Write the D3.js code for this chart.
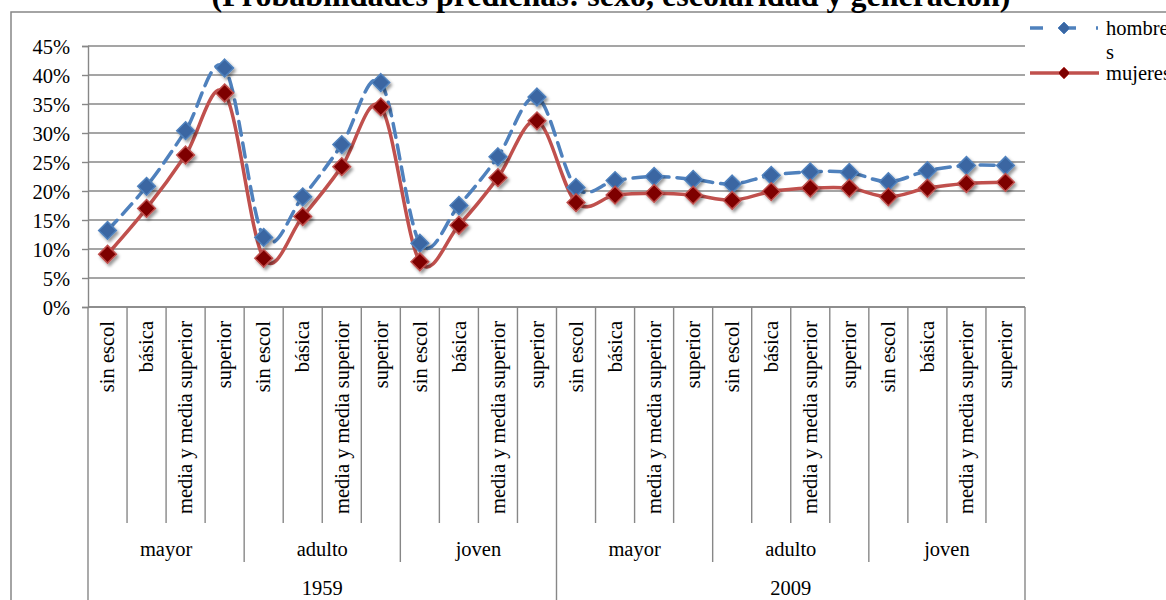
<!DOCTYPE html>
<html>
<head>
<meta charset="utf-8">
<script src="https://cdn.jsdelivr.net/npm/d3@7"></script>
<style>
  html, body { margin: 0; padding: 0; background: #fff; overflow: hidden; }
  svg { display: block; }
  svg text { font-family: "Liberation Serif", "Times New Roman", serif; }
</style>
</head>
<body>
<svg id="chart" width="1166" height="600"></svg>
<script>
// Category levels of the x axis
const years = ["1959", "2009"];
const generaciones = ["mayor", "adulto", "joven"];
const escolaridad = ["sin escol", "básica", "media y media superior", "superior"];

// Predicted probabilities (%), ordered year > generation > schooling
const hombres = [
  13.2, 20.8, 30.4, 41.2, 12.0, 19.0, 28.0, 38.7, 11.0, 17.5, 25.9, 36.2,
  20.6, 21.8, 22.5, 22.0, 21.2, 22.7, 23.3, 23.2, 21.6, 23.5, 24.4, 24.4
];
const mujeres = [
  9.1, 17.0, 26.2, 36.9, 8.4, 15.6, 24.2, 34.5, 7.8, 14.1, 22.3, 32.1,
  18.0, 19.3, 19.6, 19.3, 18.4, 19.9, 20.5, 20.5, 19.0, 20.5, 21.3, 21.5
];

const yTicks = [0, 5, 10, 15, 20, 25, 30, 35, 40, 45];
const titleText = "(Probabilidades predichas: sexo, escolaridad y generación)";

// Flat list of category keys
const cats = [];
years.forEach(yr => generaciones.forEach(g => escolaridad.forEach(e => cats.push({ yr, g, e }))));
const idx = d3.range(cats.length);

const svg = d3.select("#chart");
const gridColor = "#878787";
const blue = "#4F81BD", blueFill = "#3A66A2";
const red = "#C0504D", redFill = "#7E0000";

const x = d3.scaleBand().domain(idx).range([88, 1025]).paddingInner(0).paddingOuter(0);
const y = d3.scaleLinear().domain([0, 45]).range([307, 46]);
const cx = i => x(i) + x.bandwidth() / 2;

// Shadow for markers
const defs = svg.append("defs");
const f = defs.append("filter").attr("id", "shadow").attr("x", "-50%").attr("y", "-50%").attr("width", "200%").attr("height", "200%");
f.append("feDropShadow").attr("dx", 2).attr("dy", 2.5).attr("stdDeviation", 1.8)
  .attr("flood-color", "#000").attr("flood-opacity", 0.4);

// Outer chart frame
svg.append("rect").attr("x", 11).attr("y", 12).attr("width", 1200).attr("height", 640)
  .attr("fill", "none").attr("stroke", gridColor).attr("stroke-width", 1.5);

// Title
svg.append("text").attr("x", 611).attr("y", 6).attr("text-anchor", "middle")
  .attr("font-size", 32).attr("font-weight", "bold").text(titleText);

// Gridlines
svg.append("g").selectAll("line").data(yTicks).join("line")
  .attr("x1", 88).attr("x2", 1025)
  .attr("y1", d => y(d)).attr("y2", d => y(d))
  .attr("stroke", gridColor).attr("stroke-width", 1.4);

// Y axis
const yAxis = d3.axisLeft(y).tickValues(yTicks).tickFormat(d => d + "%").tickSize(6).tickPadding(12);
const ya = svg.append("g").attr("transform", "translate(88,0)").call(yAxis)
  .attr("font-family", null).attr("font-size", null);
ya.select(".domain").attr("stroke", gridColor).attr("stroke-width", 1.4);
ya.selectAll(".tick line").attr("stroke", gridColor).attr("stroke-width", 1.4);
ya.selectAll(".tick text").attr("font-size", 20.5).attr("fill", "#000").attr("dy", "0.35em");

// X axis baseline
svg.append("line").attr("x1", 88).attr("x2", 1025).attr("y1", 307).attr("y2", 307)
  .attr("stroke", gridColor).attr("stroke-width", 1.4);

// Hierarchical category separators
const sepG = svg.append("g").attr("stroke", gridColor).attr("stroke-width", 1.4);
d3.range(cats.length + 1).forEach(i => {
  const xp = i < cats.length ? x(i) : x(cats.length - 1) + x.bandwidth();
  let bottom = 523;
  if (i % 12 === 0) bottom = 605;
  else if (i % 4 === 0) bottom = 562;
  sepG.append("line").attr("x1", xp).attr("x2", xp).attr("y1", 307).attr("y2", bottom);
});

// Schooling labels (rotated)
svg.append("g").selectAll("text").data(idx).join("text")
  .attr("transform", i => `translate(${cx(i)},321) rotate(-90)`)
  .attr("text-anchor", "end").attr("dy", "0.33em")
  .attr("font-size", 20.5).text(i => cats[i].e);

// Generation labels
const genIdx = d3.range(years.length * generaciones.length);
svg.append("g").selectAll("text").data(genIdx).join("text")
  .attr("x", k => (x(k * 4) + x(k * 4 + 3) + x.bandwidth()) / 2)
  .attr("y", 556).attr("text-anchor", "middle").attr("font-size", 20.5)
  .text(k => generaciones[k % generaciones.length]);

// Year labels
svg.append("g").selectAll("text").data(d3.range(years.length)).join("text")
  .attr("x", k => (x(k * 12) + x(k * 12 + 11) + x.bandwidth()) / 2)
  .attr("y", 595).attr("text-anchor", "middle").attr("font-size", 20.5)
  .text(k => years[k]);

// Series
const line = vals => d3.line().x((d, i) => cx(i)).y(d => y(d)).curve(d3.curveCardinal.tension(0))(vals);
const diamond = d3.symbol().type(d3.symbolDiamond2);

svg.append("path").attr("d", line(hombres)).attr("fill", "none")
  .attr("stroke", blue).attr("stroke-width", 3.5).attr("stroke-dasharray", "14,8").attr("stroke-linecap", "round");
svg.append("path").attr("d", line(mujeres)).attr("fill", "none")
  .attr("stroke", red).attr("stroke-width", 3.5);

function markers(vals, fill, stroke) {
  svg.append("g").attr("filter", "url(#shadow)").selectAll("path").data(vals).join("path")
    .attr("d", diamond.size(200)())
    .attr("transform", (d, i) => `translate(${cx(i)},${y(d)})`)
    .attr("fill", fill).attr("stroke", stroke).attr("stroke-width", 1.5);
}
markers(hombres, blueFill, blue);
markers(mujeres, redFill, red);

// Legend
const lg = svg.append("g");
lg.append("line").attr("x1", 1030).attr("x2", 1098).attr("y1", 28).attr("y2", 28)
  .attr("stroke", blue).attr("stroke-width", 3.5).attr("stroke-dasharray", "13,20");
lg.append("path").attr("d", diamond.size(90)()).attr("transform", "translate(1064,28)")
  .attr("fill", blueFill).attr("stroke", blue).attr("stroke-width", 1);
lg.append("text").attr("x", 1106).attr("y", 35).attr("font-size", 20.5).text("hombre");
lg.append("text").attr("x", 1106).attr("y", 59).attr("font-size", 20.5).text("s");
lg.append("line").attr("x1", 1030).attr("x2", 1099).attr("y1", 73).attr("y2", 73)
  .attr("stroke", red).attr("stroke-width", 3.5);
lg.append("path").attr("d", diamond.size(90)()).attr("transform", "translate(1064,73)")
  .attr("fill", redFill).attr("stroke", red).attr("stroke-width", 1);
lg.append("text").attr("x", 1106).attr("y", 80).attr("font-size", 20.5).text("mujeres");
</script>
</body>
</html>
